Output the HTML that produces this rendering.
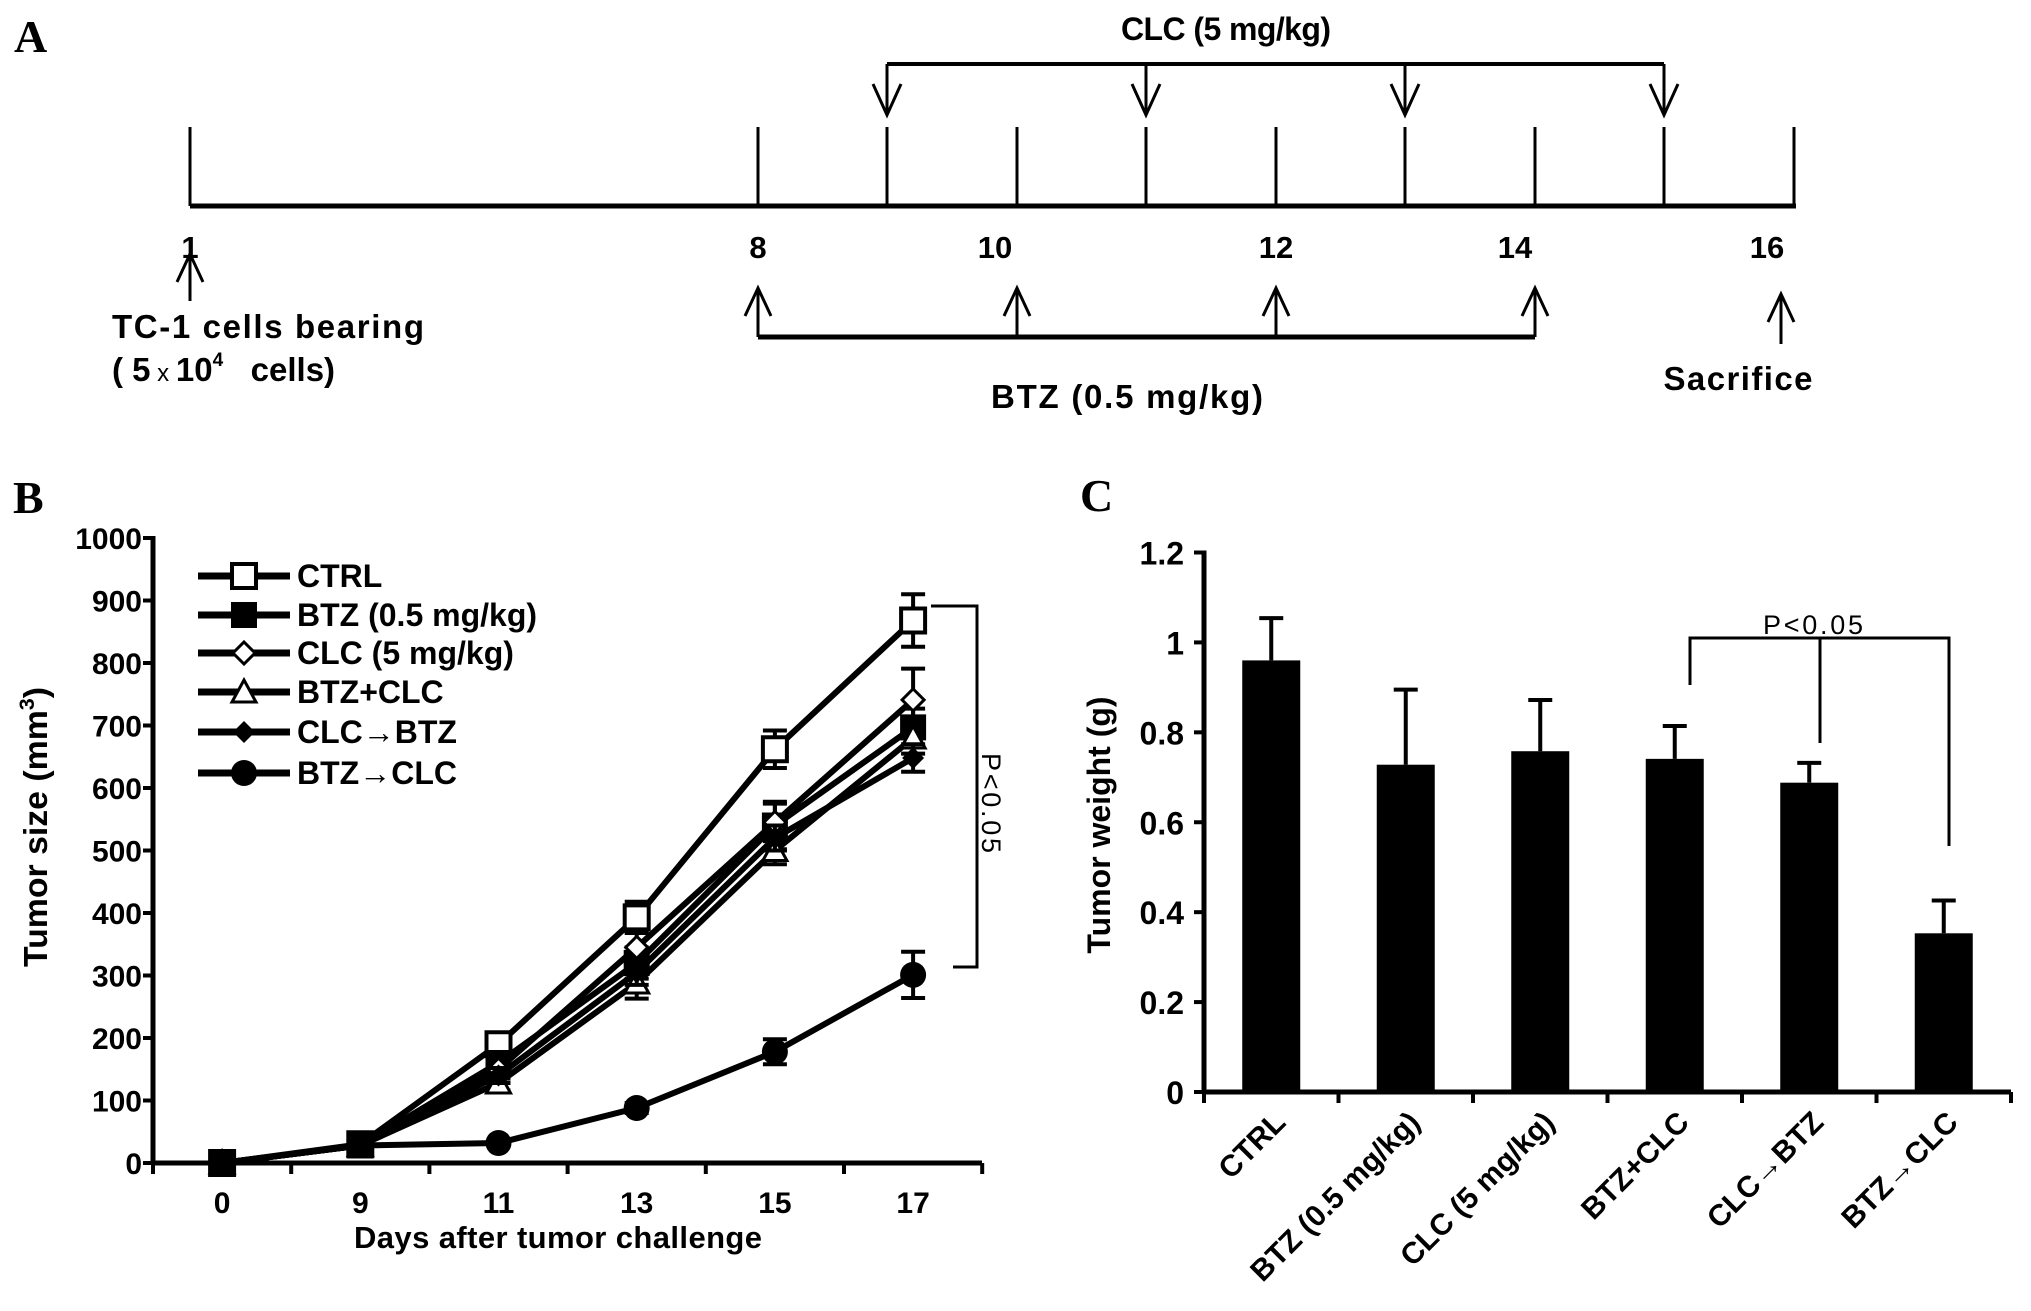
<!DOCTYPE html>
<html><head><meta charset="utf-8"><style>
html,body{margin:0;padding:0;background:#fff;}
svg{display:block;font-family:"Liberation Sans",Arial,sans-serif;}
</style></head><body>
<svg id="fig" width="2031" height="1311" viewBox="0 0 2031 1311" xmlns="http://www.w3.org/2000/svg">
<rect x="0" y="0" width="2031" height="1311" fill="#fff"/>
<!-- Panel A -->
<g id="panelA" stroke="#000" fill="none">
  <text x="14" y="52" font-family="Liberation Serif,serif" font-weight="bold" font-size="46" fill="#000" stroke="none">A</text>
  <line x1="190" y1="206" x2="1796" y2="206" stroke-width="5"/>
  <g stroke-width="3">
    <line x1="190" y1="127" x2="190" y2="206"/><line x1="758" y1="127" x2="758" y2="206"/>
    <line x1="887" y1="127" x2="887" y2="206"/><line x1="1017" y1="127" x2="1017" y2="206"/>
    <line x1="1146" y1="127" x2="1146" y2="206"/><line x1="1276" y1="127" x2="1276" y2="206"/>
    <line x1="1405" y1="127" x2="1405" y2="206"/><line x1="1535" y1="127" x2="1535" y2="206"/>
    <line x1="1664" y1="127" x2="1664" y2="206"/><line x1="1794" y1="127" x2="1794" y2="206"/>
  </g>
  <text x="1226" y="40" text-anchor="middle" font-weight="bold" font-size="32" textLength="210" fill="#000" stroke="none">CLC (5 mg/kg)</text>
  <line x1="887" y1="64" x2="1664" y2="64" stroke-width="4"/>
  <g stroke-width="3">
    <path d="M887 64V115M873 84L887 115L901 84"/>
    <path d="M1146 64V115M1132 84L1146 115L1160 84"/>
    <path d="M1405 64V115M1391 84L1405 115L1419 84"/>
    <path d="M1664 64V115M1650 84L1664 115L1678 84"/>
  </g>
  <g font-weight="bold" font-size="31" fill="#000" stroke="none" text-anchor="middle">
    <text x="190" y="258">1</text><text x="758" y="258">8</text><text x="995" y="258">10</text>
    <text x="1276" y="258">12</text><text x="1515" y="258">14</text><text x="1767" y="258">16</text>
  </g>
  <path d="M190 254V301M177 282L190 254L203 282" stroke-width="3"/>
  <g stroke-width="3">
    <path d="M758 288V337M745 316L758 288L771 316"/>
    <path d="M1017 288V337M1004 316L1017 288L1030 316"/>
    <path d="M1276 288V337M1263 316L1276 288L1289 316"/>
    <path d="M1535 288V337M1522 316L1535 288L1548 316"/>
  </g>
  <line x1="758" y1="337" x2="1535" y2="337" stroke-width="5"/>
  <path d="M1781 294V344M1768 322L1781 294L1794 322" stroke-width="3"/>
  <text x="112" y="338" font-weight="bold" font-size="33" textLength="312" fill="#000" stroke="none">TC-1 cells bearing</text>
  <text x="112" y="381" font-weight="bold" font-size="33" fill="#000" stroke="none">( 5<tspan font-size="24" font-weight="normal"> x </tspan>10<tspan font-size="19" dy="-15">4</tspan><tspan dy="15" xml:space="preserve">   cells)</tspan></text>
  <text x="1127" y="408" text-anchor="middle" font-weight="bold" font-size="33" textLength="272" fill="#000" stroke="none">BTZ (0.5 mg/kg)</text>
  <text x="1738" y="390" text-anchor="middle" font-weight="bold" font-size="33" textLength="149" fill="#000" stroke="none">Sacrifice</text>
</g>
<g id="panelB"></g>
<g id="panelC"></g>
</svg>
<script>
// ---------- Panel B data ----------
const bDays = ["0","9","11","13","15","17"];
const bYTicks = [0,100,200,300,400,500,600,700,800,900,1000];
const bSeriesNames = ["CTRL","BTZ (0.5 mg/kg)","CLC (5 mg/kg)","BTZ+CLC","CLC\u2192BTZ","BTZ\u2192CLC"];
const ctrlVals = [0,30,190,393,662,868];
const ctrlErr  = [0,5,18,25,30,42];
const btzVals  = [0,28,160,320,540,697];
const btzErr   = [0,5,15,25,38,30];
const clcVals  = [0,28,150,345,545,741];
const clcErr   = [0,5,15,25,30,50];
const comboVals= [0,28,128,288,500,680];
const comboErr = [0,5,12,25,22,25];
const clcBtzVals=[0,28,140,305,520,648];
const clcBtzErr= [0,5,12,20,20,22];
const btzClcVals=[0,28,32,88,178,301];
const btzClcErr= [0,5,5,8,20,37];
// ---------- Panel C data ----------
const cCats = ["CTRL","BTZ (0.5 mg/kg)","CLC (5 mg/kg)","BTZ+CLC","CLC\u2192BTZ","BTZ\u2192CLC"];
const cVals = [0.960,0.728,0.758,0.741,0.688,0.353];
const cErr  = [0.094,0.167,0.114,0.073,0.044,0.073];
const cYTicks = ["0","0.2","0.4","0.6","0.8","1","1.2"];

const NS="http://www.w3.org/2000/svg";
function mk(tag, parent, attrs){const e=document.createElementNS(NS,tag);for(const k in attrs)e.setAttribute(k,attrs[k]);parent.appendChild(e);return e;}

// ===== Panel B =====
(function(){
  const g=document.getElementById('panelB');
  const x0=153, xEnd=982, y0=1163, yTop=538, band=138.2;
  const yScale=v=>y0-(v/1000)*(y0-yTop);
  const xScale=i=>x0+band*(i+0.5);
  let t=mk('text',g,{x:13,y:513,'font-family':'Liberation Serif,serif','font-weight':'bold','font-size':46});t.textContent='B';
  
  
  let a=mk('line',g,{x1:x0,y1:yTop-2,x2:x0,y2:y0+2,stroke:'#000','stroke-width':5});
  
  
  a=mk('line',g,{x1:x0-2,y1:y0,x2:xEnd,y2:y0,stroke:'#000','stroke-width':5});
  
  
  bYTicks.forEach(v=>{
    const y=yScale(v);
    mk('line',g,{x1:x0-10,y1:y,x2:x0,y2:y,stroke:'#000','stroke-width':4});
    const tx=mk('text',g,{x:x0-11,y:y+11,'text-anchor':'end','font-weight':'bold','font-size':30});
    tx.textContent=v;
    
    
  });
  for(let k=0;k<=6;k++){mk('line',g,{x1:x0+band*k,y1:y0,x2:x0+band*k,y2:y0+11,stroke:'#000','stroke-width':4});}
  bDays.forEach((d,i)=>{
    const tx=mk('text',g,{x:xScale(i),y:1213,'text-anchor':'middle','font-weight':'bold','font-size':30});
    tx.textContent=d;
    
    
  });
  t=mk('text',g,{x:558,y:1248,'text-anchor':'middle','font-weight':'bold','font-size':31,textLength:408});t.textContent='Days after tumor challenge';
  
  
  t=mk('text',g,{x:-140,y:0,'font-weight':'bold','font-size':33,textLength:280,lengthAdjust:'spacingAndGlyphs',transform:'translate(47,827) rotate(-90)'});
  t.innerHTML='Tumor size (mm<tspan font-size="21" dy="-13">3</tspan><tspan dy="13">)</tspan>';
  
  

  const series=[ctrlVals,btzVals,clcVals,comboVals,clcBtzVals,btzClcVals];
  const errs=[ctrlErr,btzErr,clcErr,comboErr,clcBtzErr,btzClcErr];
  const markers=['sqOpen','sqFill','diaOpen','triOpen','diaFill','circle'];
  function marker(p,type,x,y){
    let e;
    if(type==='sqOpen') e=mk('rect',p,{x:x-12,y:y-12,width:24,height:24,fill:'#fff',stroke:'#000','stroke-width':4});
    else if(type==='sqFill') e=mk('rect',p,{x:x-13,y:y-13,width:26,height:26,fill:'#000'});
    else if(type==='diaOpen') e=mk('path',p,{d:`M${x} ${y-11}L${x+11} ${y}L${x} ${y+11}L${x-11} ${y}Z`,fill:'#fff',stroke:'#000','stroke-width':3});
    else if(type==='triOpen') e=mk('path',p,{d:`M${x} ${y-12}L${x+12} ${y+10}L${x-12} ${y+10}Z`,fill:'#fff',stroke:'#000','stroke-width':3});
    else if(type==='diaFill') e=mk('path',p,{d:`M${x} ${y-11}L${x+11} ${y}L${x} ${y+11}L${x-11} ${y}Z`,fill:'#000'});
    else e=mk('circle',p,{cx:x,cy:y,r:13,fill:'#000'});
    return e;
  }
  series.forEach((vals,si)=>{
    const sg=mk('g',g,{});
    
    
    const pts=vals.map((v,i)=>xScale(i)+','+yScale(v)).join(' ');
    const pl=mk('polyline',sg,{points:pts,fill:'none',stroke:'#000','stroke-width':6,'stroke-linejoin':'round'});
    
    
    vals.forEach((v,i)=>{
      const e=errs[si][i];
      if(e>0){
        const x=xScale(i);
        const eb=mk('path',sg,{d:`M${x} ${yScale(v+e)}V${yScale(v-e)}M${x-12} ${yScale(v+e)}H${x+12}M${x-12} ${yScale(v-e)}H${x+12}`,stroke:'#000','stroke-width':4,fill:'none'});
        
        
      }
      const m=marker(sg,markers[si],xScale(i),yScale(v));
      
      
    });
  });
  // legend
  const legY=[576,615,653,692,732,773];
  bSeriesNames.forEach((n,i)=>{
    const lg=mk('g',g,{});
    
    
    mk('line',lg,{x1:198,y1:legY[i],x2:290,y2:legY[i],stroke:'#000','stroke-width':7});
    marker(lg,markers[i],244,legY[i]);
    const tx=mk('text',lg,{x:297,y:legY[i]+11,'font-weight':'bold','font-size':32});tx.textContent=n;
  });
  // significance
  const sg=mk('path',g,{d:'M931 606H977V967H953',fill:'none',stroke:'#000','stroke-width':3});
  
  
  t=mk('text',g,{x:0,y:0,'text-anchor':'middle','font-size':27,textLength:100,transform:'translate(982,803) rotate(90)'});t.textContent='P<0.05';
  
  
})();

// ===== Panel C =====
(function(){
  const g=document.getElementById('panelC');
  const x0=1204, xEnd=2011, y0=1092, yTop=552.5, band=134.5, bw=58;
  const yScale=v=>y0-(v/1.2)*(y0-yTop);
  const xScale=i=>x0+band*(i+0.5);
  let t=mk('text',g,{x:1080,y:511,'font-family':'Liberation Serif,serif','font-weight':'bold','font-size':46});t.textContent='C';
  
  
  cVals.forEach((v,i)=>{
    const x=xScale(i);
    const e=mk('path',g,{d:`M${x} ${yScale(v)}V${yScale(v+cErr[i])}M${x-12} ${yScale(v+cErr[i])}H${x+12}`,stroke:'#000','stroke-width':4,fill:'none'});
    
    
    const r=mk('rect',g,{x:x-bw/2,y:yScale(v),width:bw,height:y0-yScale(v),fill:'#000'});
    
    
    const tx=mk('text',g,{x:0,y:0,'text-anchor':'end','font-weight':'bold','font-size':30,transform:`translate(${x+16},${y0+32}) rotate(-45)`});
    tx.textContent=cCats[i];
    
    
  });
  let a=mk('line',g,{x1:x0,y1:yTop-2,x2:x0,y2:y0+2,stroke:'#000','stroke-width':5});
  
  
  a=mk('line',g,{x1:x0-2,y1:y0,x2:xEnd,y2:y0,stroke:'#000','stroke-width':5});
  
  
  cYTicks.forEach(lbl=>{
    const y=yScale(parseFloat(lbl));
    mk('line',g,{x1:x0-10,y1:y,x2:x0,y2:y,stroke:'#000','stroke-width':4});
    const tx=mk('text',g,{x:x0-20,y:y+12,'text-anchor':'end','font-weight':'bold','font-size':32});
    tx.textContent=lbl;
    
    
  });
  for(let k=0;k<=6;k++){mk('line',g,{x1:x0+band*k,y1:y0,x2:x0+band*k,y2:y0+11,stroke:'#000','stroke-width':4});}
  t=mk('text',g,{x:0,y:0,'text-anchor':'middle','font-weight':'bold','font-size':32,transform:'translate(1110,825) rotate(-90)'});t.textContent='Tumor weight (g)';
  
  
  const br=mk('path',g,{d:'M1690 685V638H1949V846M1820 638V743',fill:'none',stroke:'#000','stroke-width':3});
  
  
  t=mk('text',g,{x:1813,y:634,'text-anchor':'middle','font-size':27,textLength:100});t.textContent='P<0.05';
  
  
})();
</script>
</body></html>
